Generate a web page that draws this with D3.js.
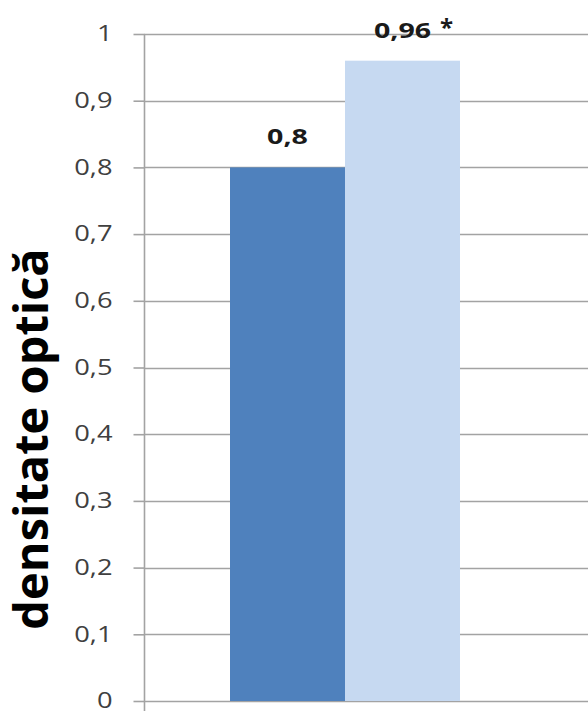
<!DOCTYPE html>
<html>
<head>
<meta charset="utf-8">
<script src="https://cdn.jsdelivr.net/npm/d3@7"></script>
<style>
  html, body { margin: 0; padding: 0; background: #ffffff; }
  svg { display: block; }
</style>
</head>
<body>
<script>
// Optical density for two groups
const categories = ["A", "B"];
const values = [0.8, 0.96];
const valueLabels = ["0,8", "0,96"];
const significance = ["", "*"];
const barColors = ["#4F81BD", "#C6D9F1"];
const yTicks = [0, 0.1, 0.2, 0.3, 0.4, 0.5, 0.6, 0.7, 0.8, 0.9, 1];
const yTitle = "densitate optică";

const W = 588, H = 711;
const svg = d3.select("body").append("svg").attr("width", W).attr("height", H);

const x0 = 144, x1 = 588;
const y = d3.scaleLinear().domain([0, 1]).range([701, 34]);
const x = d3.scaleBand().domain(categories).range([230, 460]).paddingInner(0).paddingOuter(0);

const fmt = d => String(+d.toFixed(1)).replace(".", ",");
const font = "'Open Sans', 'Noto Sans', sans-serif";
const stretch = 1.3; // wide lettering used for numbers

// horizontal gridlines
svg.append("g").selectAll("line").data(yTicks).join("line")
  .attr("x1", x0).attr("x2", x1)
  .attr("y1", d => Math.round(y(d)) + 0.5).attr("y2", d => Math.round(y(d)) + 0.5)
  .attr("stroke", "#a3a3a3").attr("stroke-width", 1.6);

// bars
svg.append("g").selectAll("rect").data(values).join("rect")
  .attr("x", (d, i) => x(categories[i]))
  .attr("width", x.bandwidth())
  .attr("y", d => y(d))
  .attr("height", d => y(0) - y(d))
  .attr("fill", (d, i) => barColors[i]);

// y axis
const axis = d3.axisLeft(y).tickValues(yTicks).tickFormat(fmt).tickSize(11);
const gAxis = svg.append("g").attr("transform", `translate(${x0 + 0.5},0)`).call(axis);
gAxis.select(".domain").remove();
gAxis.selectAll(".tick line").attr("stroke", "#a3a3a3").attr("stroke-width", 1.6);
gAxis.selectAll(".tick text")
  .attr("x", 0)
  .attr("transform", `translate(-32,0) scale(${stretch},1)`)
  .attr("fill", "#404040").style("font-family", font).style("font-size", "21px");
svg.append("line")
  .attr("x1", x0 + 0.5).attr("x2", x0 + 0.5).attr("y1", y(1)).attr("y2", H)
  .attr("stroke", "#a3a3a3").attr("stroke-width", 1.6);

// value labels
const labels = svg.append("g").selectAll("g").data(values).join("g")
  .attr("transform", (d, i) => `translate(${x(categories[i]) + x.bandwidth() / 2},${y(d) - 23})`);
labels.append("text")
  .attr("transform", `scale(${stretch},1)`)
  .attr("text-anchor", "middle")
  .style("font-family", font).style("font-size", "22px").style("font-weight", "bold")
  .attr("fill", "#1a1a1a")
  .text((d, i) => valueLabels[i])
  .each(function (d, i) {
    if (!significance[i]) return;
    const w = this.getComputedTextLength() * stretch;
    d3.select(this.parentNode).append("text")
      .attr("x", w / 2 + 9)
      .attr("y", -2)
      .style("font-family", font).style("font-size", "24px").style("font-weight", "bold")
      .attr("fill", "#1a1a1a")
      .text(significance[i]);
  });

// y axis title
svg.append("text")
  .attr("transform", `translate(48,439) rotate(-90)`)
  .attr("text-anchor", "middle")
  .style("font-family", font).style("font-size", "47px").style("font-weight", "bold")
  .attr("fill", "#000")
  .text(yTitle);
</script>
</body>
</html>
